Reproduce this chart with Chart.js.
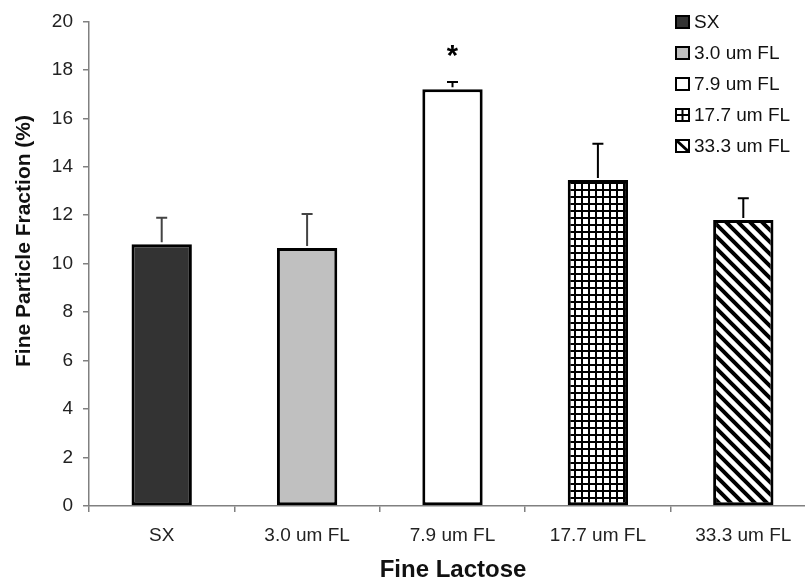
<!DOCTYPE html>
<html>
<head>
<meta charset="utf-8">
<script src="https://cdn.jsdelivr.net/npm/chart.js@4.4.1/dist/chart.umd.min.js"></script>
<style>
  html, body { margin: 0; padding: 0; background: #fff; overflow: hidden; width: 805px; height: 583px; }
  #wrap { width: 816px; height: 583px; }
</style>
</head>
<body>
<div id="wrap"><canvas id="fpfChart" width="816" height="583"></canvas></div>
<script>
// Données
const categories = ['SX', '3.0 um FL', '7.9 um FL', '17.7 um FL', '33.3 um FL'];
const fpfMean    = [10.8, 10.65, 17.2, 13.45, 11.8];
const fpfSd      = [1.1, 1.4, 0.3, 1.5, 0.9];
const significant = [false, false, true, false, false];
const yMin = 0, yMax = 20, yStep = 2;

const FONT = '"Liberation Sans", Arial, sans-serif';

// ---- Motifs de remplissage ----
function gridPattern() {
    const c = document.createElement('canvas');
    c.width = 7; c.height = 7;
    const g = c.getContext('2d');
    g.fillStyle = '#fff'; g.fillRect(0, 0, 7, 7);
    g.fillStyle = '#000';
    g.fillRect(0, 0, 7, 2);
    g.fillRect(0, 0, 2, 7);
    return g.createPattern(c, 'repeat');
}

function diagPattern() {
    const s = 12;
    const c = document.createElement('canvas');
    c.width = s; c.height = s;
    const g = c.getContext('2d');
    g.fillStyle = '#fff'; g.fillRect(0, 0, s, s);
    g.strokeStyle = '#000';
    g.lineWidth = 4;
    g.beginPath();
    g.moveTo(-s, -s); g.lineTo(2 * s, 2 * s);
    g.moveTo(-s, 0);  g.lineTo(s, 2 * s);
    g.moveTo(0, -s);  g.lineTo(2 * s, s);
    g.stroke();
    return g.createPattern(c, 'repeat');
}

const fills = ['#333333', '#c0c0c0', '#ffffff', gridPattern(), diagPattern()];
const errColors = ['#444', '#444', '#000', '#000', '#000'];

// ---- Barres d'erreur, astérisque, légende, titres ----
const extras = {
    id: 'extras',
    afterDatasetsDraw(chart) {
        const ctx = chart.ctx;
        const x = chart.scales.x, y = chart.scales.y;
        ctx.save();
        fpfMean.forEach((m, i) => {
            const px = x.getPixelForValue(i);
            const y0 = y.getPixelForValue(m);
            const y1 = y.getPixelForValue(m + fpfSd[i]);
            ctx.strokeStyle = errColors[i];
            ctx.lineWidth = 2;
            ctx.beginPath();
            ctx.moveTo(px, y0 - 2); ctx.lineTo(px, y1);
            ctx.moveTo(px - 5.5, y1); ctx.lineTo(px + 5.5, y1);
            ctx.stroke();
            if (significant[i]) {
                ctx.fillStyle = '#000';
                ctx.font = 'bold 29px ' + FONT;
                ctx.textAlign = 'center';
                ctx.textBaseline = 'middle';
                ctx.fillText('*', px, y1 - 25);
            }
        });
        ctx.restore();
    },
    afterDraw(chart) {
        const ctx = chart.ctx;
        ctx.save();
        // Légende
        ctx.font = '19px ' + FONT;
        ctx.textBaseline = 'middle';
        ctx.textAlign = 'left';
        categories.forEach((lab, i) => {
            const cy = 22 + i * 31;
            const bx = 676, by = cy - 6, bw = 13, bh = 12;
            ctx.fillStyle = i < 3 ? fills[i] : '#fff';
            ctx.fillRect(bx, by, bw, bh);
            ctx.strokeStyle = '#000';
            ctx.lineWidth = 2;
            if (i === 3) {
                ctx.beginPath();
                ctx.moveTo(bx + bw / 2, by); ctx.lineTo(bx + bw / 2, by + bh);
                ctx.moveTo(bx, by + bh / 2); ctx.lineTo(bx + bw, by + bh / 2);
                ctx.stroke();
            }
            if (i === 4) {
                ctx.lineWidth = 3;
                ctx.beginPath();
                ctx.moveTo(bx, by); ctx.lineTo(bx + bw, by + bh);
                ctx.stroke();
                ctx.lineWidth = 2;
            }
            ctx.strokeRect(bx, by, bw, bh);
            ctx.fillStyle = '#111';
            ctx.fillText(lab, 694, cy + 1);
        });
        // Titres des axes
        ctx.fillStyle = '#111';
        ctx.textAlign = 'center';
        ctx.textBaseline = 'middle';
        ctx.font = 'bold 24px ' + FONT;
        ctx.fillText('Fine Lactose', 453, 570);
        ctx.font = 'bold 21px ' + FONT;
        ctx.translate(24, 241);
        ctx.rotate(-Math.PI / 2);
        ctx.fillText('Fine Particle Fraction (%)', 0, 0);
        ctx.restore();
    }
};

new Chart(document.getElementById('fpfChart'), {
    type: 'bar',
    data: {
        labels: categories,
        datasets: [{
            data: fpfMean,
            backgroundColor: fills,
            borderColor: '#000',
            borderWidth: 3,
            borderSkipped: false,
            barPercentage: 0.415,
            categoryPercentage: 1
        }]
    },
    options: {
        responsive: false,
        animation: false,
        layout: { padding: { top: 8, right: 0, left: 0, bottom: 0 } },
        plugins: {
            legend: { display: false },
            tooltip: { enabled: false }
        },
        scales: {
            x: {
                offset: true,
                grid: {
                    offset: true,
                    drawOnChartArea: false,
                    tickLength: 6,
                    color: '#808080',
                    lineWidth: 1.5
                },
                border: { color: '#808080', width: 1.5 },
                ticks: {
                    font: { family: FONT, size: 19 },
                    color: '#222',
                    padding: 12,
                    maxRotation: 0
                },
                afterFit: (s) => { s.height = 77; }
            },
            y: {
                min: yMin,
                max: yMax,
                grid: {
                    drawOnChartArea: false,
                    tickLength: 6,
                    color: '#808080',
                    lineWidth: 1.5
                },
                border: { color: '#808080', width: 1.5 },
                ticks: {
                    stepSize: yStep,
                    font: { family: FONT, size: 19 },
                    color: '#222',
                    padding: 10
                },
                afterFit: (s) => { s.width = 89; }
            }
        }
    },
    plugins: [extras]
});
</script>
</body>
</html>
